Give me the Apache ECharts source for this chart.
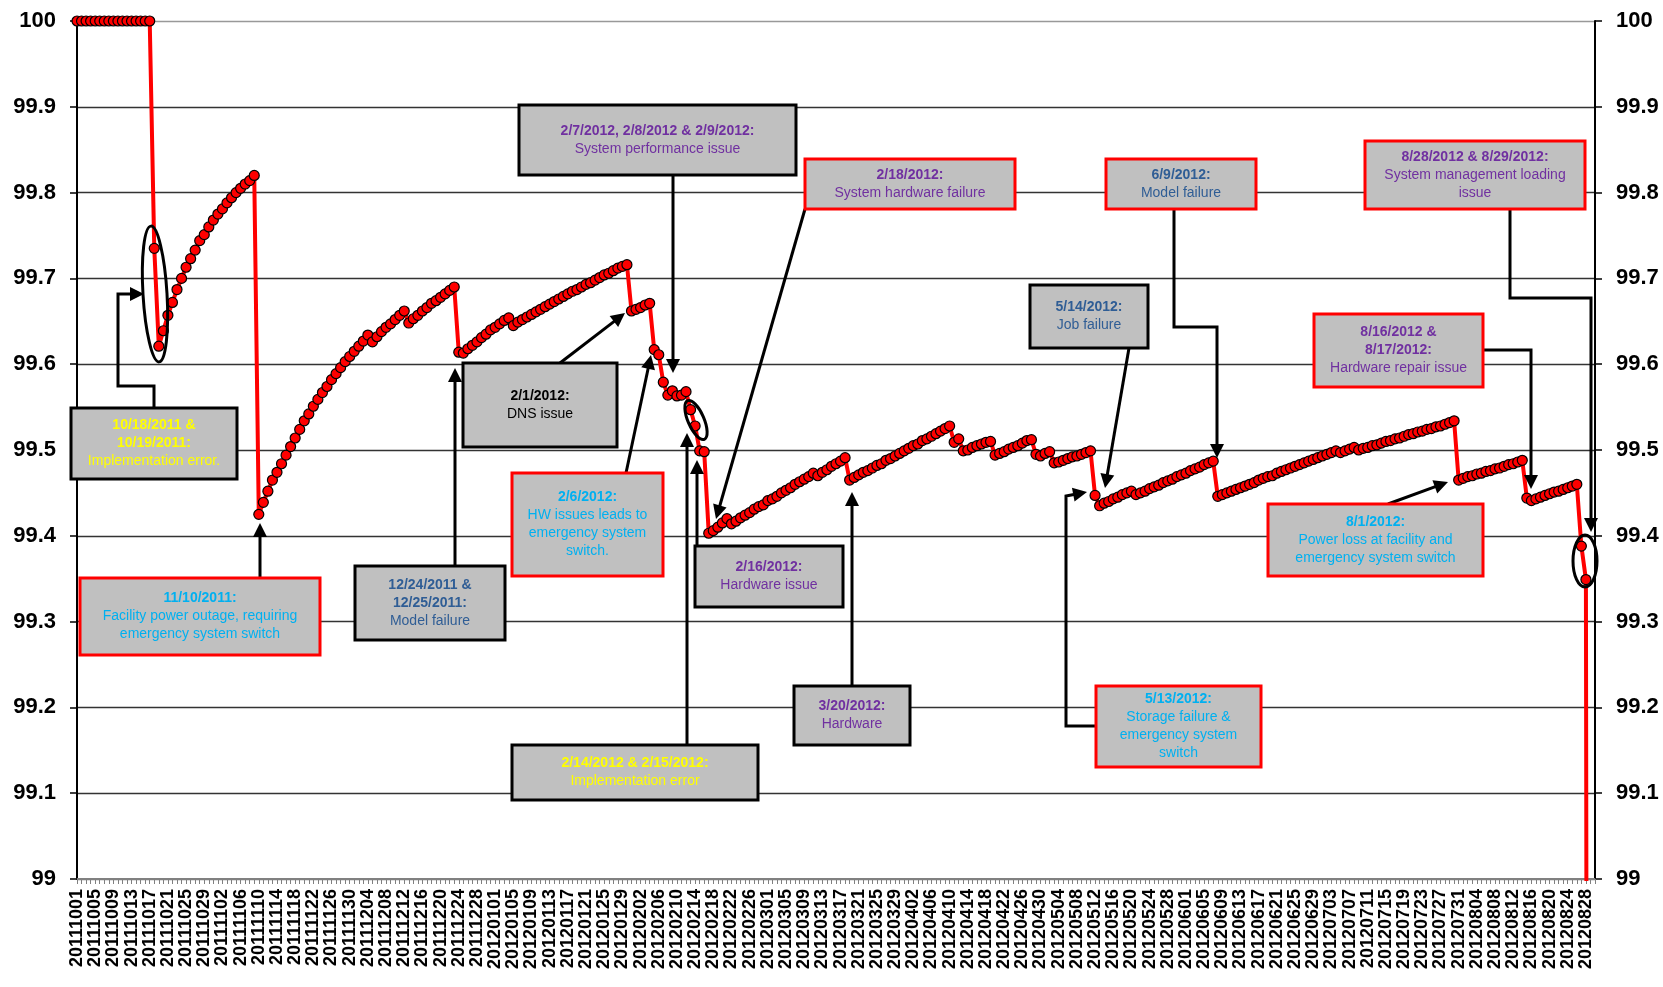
<!DOCTYPE html>
<html>
<head>
<meta charset="utf-8">
<script src="https://cdn.jsdelivr.net/npm/echarts@6/dist/echarts.min.js"></script>
<style>
  html, body { margin: 0; padding: 0; background: #fff; }
  #chart { width: 1663px; height: 987px; }
</style>
</head>
<body>
<div id="chart"></div>
<script>
// daily availability (%), one value per day starting 2011-10-01
const oct2011 = [100, 100, 100, 100, 100, 100, 100, 100, 100, 100, 100, 100, 100, 100, 100, 100, 100,
  99.735, 99.621, 99.639, 99.657, 99.672, 99.687, 99.700, 99.713, 99.723, 99.733, 99.744, 99.751, 99.760, 99.768];
const nov2011 = [99.775, 99.781, 99.788, 99.794, 99.800, 99.805, 99.810, 99.814, 99.820,
  99.425, 99.439, 99.452, 99.465, 99.474, 99.484, 99.494, 99.504, 99.514, 99.524, 99.534, 99.542,
  99.551, 99.559, 99.567, 99.574, 99.582, 99.589, 99.596, 99.603, 99.609];
const dec2011 = [99.615, 99.621, 99.627, 99.634, 99.626, 99.632, 99.638, 99.643, 99.647, 99.652, 99.657,
  99.662, 99.648, 99.653, 99.657, 99.662, 99.666, 99.671, 99.674, 99.678, 99.682, 99.686, 99.690,
  99.614, 99.613, 99.618, 99.622, 99.626, 99.631, 99.635, 99.640];
const jan2012 = [99.643, 99.647, 99.651, 99.654, 99.645, 99.649, 99.652, 99.655, 99.658, 99.661, 99.664,
  99.667, 99.670, 99.673, 99.676, 99.679, 99.682, 99.685, 99.687, 99.690, 99.693, 99.695, 99.698,
  99.701, 99.704, 99.706, 99.709, 99.712, 99.714, 99.716, 99.662];
const feb2012 = [99.664, 99.666, 99.669, 99.671, 99.617, 99.611, 99.579, 99.564, 99.569, 99.563, 99.564,
  99.568, 99.547, 99.528, 99.499, 99.498, 99.403, 99.406, 99.410, 99.415, 99.420, 99.414, 99.417,
  99.421, 99.424, 99.427, 99.431, 99.434, 99.436];
const mar2012 = [99.441, 99.443, 99.446, 99.450, 99.453, 99.456, 99.460, 99.463, 99.466, 99.469, 99.473,
  99.470, 99.474, 99.477, 99.481, 99.484, 99.487, 99.491, 99.465, 99.468, 99.471, 99.474, 99.476,
  99.479, 99.482, 99.484, 99.488, 99.490, 99.493, 99.496, 99.499];
const apr2012 = [99.502, 99.505, 99.507, 99.511, 99.513, 99.516, 99.519, 99.522, 99.525, 99.528,
  99.509, 99.513, 99.499, 99.500, 99.503, 99.505, 99.507, 99.509, 99.510,
  99.494, 99.496, 99.498, 99.501, 99.503, 99.505, 99.508, 99.511, 99.512, 99.495, 99.493];
const may2012 = [99.496, 99.498, 99.485, 99.486, 99.488, 99.490, 99.492, 99.493, 99.495, 99.497, 99.499,
  99.447, 99.435, 99.438, 99.440, 99.443, 99.445, 99.448, 99.450, 99.452, 99.448, 99.450, 99.452,
  99.455, 99.457, 99.459, 99.462, 99.464, 99.466, 99.469, 99.471];
const jun2012 = [99.473, 99.476, 99.478, 99.480, 99.483, 99.485, 99.487, 99.446, 99.448, 99.450,
  99.452, 99.454, 99.456, 99.458, 99.460, 99.462, 99.465, 99.467, 99.469, 99.470, 99.473, 99.475,
  99.477, 99.479, 99.481, 99.483, 99.485, 99.487, 99.489, 99.491];
const jul2012 = [99.493, 99.495, 99.497, 99.499, 99.497, 99.499, 99.501, 99.503, 99.500, 99.502, 99.503,
  99.505, 99.506, 99.508, 99.510, 99.511, 99.513, 99.514, 99.516, 99.518, 99.519, 99.521, 99.522,
  99.524, 99.525, 99.527, 99.528, 99.530, 99.532, 99.534, 99.465];
const aug2012 = [99.467, 99.469, 99.470, 99.472, 99.473, 99.475, 99.476, 99.478, 99.479, 99.481, 99.483,
  99.484, 99.486, 99.488, 99.444, 99.441, 99.443, 99.445, 99.447, 99.449, 99.451, 99.452, 99.454,
  99.456, 99.458, 99.460, 99.388, 99.349, 96.0];

const availability = [].concat(oct2011, nov2011, dec2011, jan2012, feb2012, mar2012,
  apr2012, may2012, jun2012, jul2012, aug2012);

// category labels: every day 20111001 .. 20120830
const dayCount = 335;
const days = [];
(function () {
  const d = new Date(Date.UTC(2011, 9, 1));
  for (let i = 0; i < dayCount; i++) {
    const m = d.getUTCMonth() + 1, dd = d.getUTCDate();
    days.push('' + d.getUTCFullYear() + (m < 10 ? '0' : '') + m + (dd < 10 ? '0' : '') + dd);
    d.setUTCDate(dd + 1);
  }
})();

const yTicks = [99, 99.1, 99.2, 99.3, 99.4, 99.5, 99.6, 99.7, 99.8, 99.9, 100];

// annotation boxes (pixel layout)
const YEL = '#FFFF00', CYAN = '#00B0F0', PURP = '#7030A0', NAVY = '#2F5D95', BLK = '#000';
const notes = [
  { x: 71, y: 408, w: 166, h: 71, border: BLK, color: YEL, b: ['10/18/2011 &', '10/19/2011:'], n: ['Implementation error.'] },
  { x: 80, y: 578, w: 240, h: 77, border: '#f00', color: CYAN, b: ['11/10/2011:'], n: ['Facility power outage, requiring', 'emergency system switch'] },
  { x: 355, y: 566, w: 150, h: 74, border: BLK, color: NAVY, b: ['12/24/2011 &', '12/25/2011:'], n: ['Model failure'] },
  { x: 463, y: 363, w: 154, h: 84, border: BLK, color: BLK, b: ['2/1/2012:'], n: ['DNS issue'] },
  { x: 512, y: 473, w: 151, h: 103, border: '#f00', color: CYAN, b: ['2/6/2012:'], n: ['HW issues leads to', 'emergency system', 'switch.'] },
  { x: 519, y: 105, w: 277, h: 70, border: BLK, color: PURP, b: ['2/7/2012, 2/8/2012 & 2/9/2012:'], n: ['System performance issue'] },
  { x: 512, y: 745, w: 246, h: 55, border: BLK, color: YEL, b: ['2/14/2012 & 2/15/2012:'], n: ['Implementation error'] },
  { x: 695, y: 546, w: 148, h: 61, border: BLK, color: PURP, b: ['2/16/2012:'], n: ['Hardware issue'] },
  { x: 805, y: 159, w: 210, h: 50, border: '#f00', color: PURP, b: ['2/18/2012:'], n: ['System hardware failure'] },
  { x: 794, y: 686, w: 116, h: 59, border: BLK, color: PURP, b: ['3/20/2012:'], n: ['Hardware'] },
  { x: 1030, y: 285, w: 118, h: 63, border: BLK, color: NAVY, b: ['5/14/2012:'], n: ['Job failure'] },
  { x: 1096, y: 686, w: 165, h: 81, border: '#f00', color: CYAN, b: ['5/13/2012:'], n: ['Storage failure &', 'emergency system', 'switch'] },
  { x: 1106, y: 159, w: 150, h: 50, border: '#f00', color: NAVY, b: ['6/9/2012:'], n: ['Model failure'] },
  { x: 1314, y: 314, w: 169, h: 73, border: '#f00', color: PURP, b: ['8/16/2012 &', '8/17/2012:'], n: ['Hardware repair issue'] },
  { x: 1268, y: 504, w: 215, h: 72, border: '#f00', color: CYAN, b: ['8/1/2012:'], n: ['Power loss at facility and', 'emergency system switch'] },
  { x: 1365, y: 141, w: 220, h: 68, border: '#f00', color: PURP, b: ['8/28/2012 & 8/29/2012:'], n: ['System management loading', 'issue'] }
];

const arrows = [
  [[154, 408], [154, 386], [118, 386], [118, 294], [144, 294]],
  [[260, 578], [260, 523]],
  [[455, 566], [455, 368]],
  [[560, 363], [625, 313]],
  [[626, 473], [651, 355]],
  [[673, 175], [673, 373]],
  [[687, 745], [687, 433]],
  [[697, 546], [697, 460]],
  [[805, 209], [716, 519]],
  [[852, 686], [852, 492]],
  [[1129, 348], [1105, 488]],
  [[1096, 726], [1066, 726], [1066, 496], [1087, 492]],
  [[1174, 209], [1174, 327], [1217, 327], [1217, 458]],
  [[1483, 350], [1531, 350], [1531, 489]],
  [[1388, 504], [1448, 482]],
  [[1510, 209], [1510, 298], [1591, 298], [1591, 532]]
];

const rings = [
  { cx: 155, cy: 294, rx: 12, ry: 68, rot: 0.06 },
  { cx: 696, cy: 420, rx: 8, ry: 21, rot: 0.41 },
  { cx: 1585, cy: 561, rx: 12, ry: 26, rot: 0 }
];

function buildGraphics() {
  const els = [];
  notes.forEach(function (o) {
    els.push({
      type: 'rect', z: 10,
      shape: { x: o.x, y: o.y, width: o.w, height: o.h },
      style: { fill: '#C0C0C0', stroke: o.border, lineWidth: 3 }
    });
    const lines = o.b.map(function (t) { return '{b|' + t + '}'; })
      .concat(o.n.map(function (t) { return '{n|' + t + '}'; }));
    els.push({
      type: 'text', z: 11, x: o.x + o.w / 2, y: o.y + o.h / 2,
      style: {
        text: lines.join('\n'), align: 'center', verticalAlign: 'middle',
        rich: {
          b: { fill: o.color, fontWeight: 'bold', fontSize: 14, fontFamily: 'Liberation Sans, Arial', lineHeight: 18, align: 'center' },
          n: { fill: o.color, fontSize: 14, fontFamily: 'Liberation Sans, Arial', lineHeight: 18, align: 'center' }
        }
      }
    });
  });
  arrows.forEach(function (pts) {
    const a = pts[pts.length - 2], b = pts[pts.length - 1];
    const dx = b[0] - a[0], dy = b[1] - a[1], len = Math.sqrt(dx * dx + dy * dy);
    const ux = dx / len, uy = dy / len, L = 14, W = 7;
    const base = [b[0] - ux * L, b[1] - uy * L];
    const line = pts.slice(0, -1).concat([[b[0] - ux * (L - 2), b[1] - uy * (L - 2)]]);
    els.push({ type: 'polyline', z: 9, shape: { points: line }, style: { stroke: '#000', lineWidth: 3, fill: null } });
    els.push({
      type: 'polygon', z: 9,
      shape: { points: [b, [base[0] - uy * W, base[1] + ux * W], [base[0] + uy * W, base[1] - ux * W]] },
      style: { fill: '#000' }
    });
  });
  rings.forEach(function (r) {
    els.push({
      type: 'ellipse', z: 8, x: r.cx, y: r.cy, rotation: r.rot,
      shape: { cx: 0, cy: 0, rx: r.rx, ry: r.ry },
      style: { fill: null, stroke: '#000', lineWidth: 3 }
    });
  });
  return els;
}

const chart = echarts.init(document.getElementById('chart'), null, { renderer: 'canvas' });
const yLabel = function (v) { return String(+v.toFixed(1)); };
const yCommon = {
  type: 'value', min: yTicks[0], max: yTicks[yTicks.length - 1], interval: 0.1,
  axisLine: { show: true, lineStyle: { color: '#000', width: 2 } },
  axisTick: { show: true, length: 7, lineStyle: { color: '#000', width: 1.5 } },
  axisLabel: { formatter: yLabel, color: '#000', fontSize: 22, fontWeight: 'bold', fontFamily: 'Liberation Sans, Arial', margin: 21 }
};

chart.setOption({
  animation: false,
  backgroundColor: '#fff',
  grid: { left: 77, right: 68, top: 21, bottom: 108, containLabel: false, outerBoundsMode: 'none' },
  xAxis: {
    type: 'category', data: days, boundaryGap: false,
    axisLine: { lineStyle: { color: '#808080', width: 2 } },
    axisTick: { show: true, interval: 0, length: 5, lineStyle: { color: '#808080' } },
    axisLabel: {
      interval: 3,
      rotate: 90, color: '#000', fontSize: 18, fontWeight: 'bold', fontFamily: 'Liberation Sans, Arial', margin: 10
    },
    splitLine: { show: false }
  },
  yAxis: [
    Object.assign({}, yCommon, {
      position: 'left',
      splitLine: { show: true, lineStyle: { color: ['#808080', '#333', '#333', '#333', '#333', '#333', '#333', '#333', '#333', '#333', '#999'], width: 1.3 } }
    }),
    Object.assign({}, yCommon, { position: 'right', splitLine: { show: false } })
  ],
  series: [{
    type: 'line', data: availability, yAxisIndex: 0,
    showAllSymbol: true, symbol: 'circle', symbolSize: 10, clip: true,
    lineStyle: { color: '#FF0000', width: 4 },
    itemStyle: { color: '#FF0000', borderColor: '#000', borderWidth: 1.2 },
    emphasis: { disabled: true }
  }],
  graphic: buildGraphics()
});
</script>
</body>
</html>
